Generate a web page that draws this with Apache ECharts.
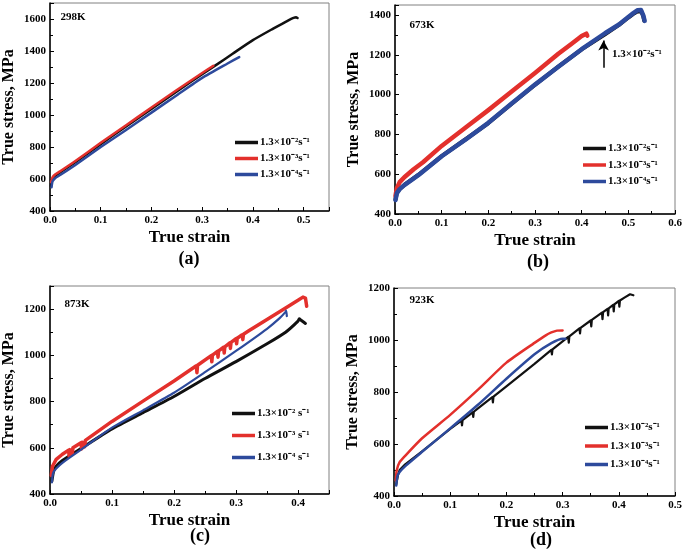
<!DOCTYPE html>
<html><head><meta charset="utf-8">
<script src="https://cdn.jsdelivr.net/npm/echarts@6/dist/echarts.min.js"></script>
<style>html,body{margin:0;padding:0;background:#fff}#c{width:685px;height:555px}</style>
</head><body><div id="c"></div>
<script>
const FONT = '"Liberation Serif","Times New Roman",serif';
const rateNames = ['1.3×10⁻²s⁻¹', '1.3×10⁻³s⁻¹', '1.3×10⁻⁴s⁻¹'];
const rateNamesC = ['1.3×10⁻² s⁻¹', '1.3×10⁻³ s⁻¹', '1.3×10⁻⁴ s⁻¹'];
const temps = ['298K', '673K', '873K', '923K'];
const panelLabels = ['(a)', '(b)', '(c)', '(d)'];
const xMax = [0.55, 0.6, 0.45, 0.5];
const yMax = [1700, 1450, 1300, 1200];
const arrowNote = '1.3×10⁻²s⁻¹';

// (a) 298K  [true strain, true stress MPa]
const a_black = [[0.002,555],[0.004,590],[0.008,612],[0.015,630],[0.03,662],[0.05,705],[0.1,818],[0.15,928],[0.2,1038],[0.25,1147],[0.3,1255],[0.33,1318],[0.36,1383],[0.4,1468],[0.44,1540],[0.47,1592],[0.48,1607],[0.485,1611],[0.488,1606]];
const a_red = [[0.002,580],[0.005,610],[0.01,628],[0.02,648],[0.05,712],[0.1,826],[0.15,936],[0.2,1047],[0.25,1156],[0.3,1262],[0.322,1308]];
const a_blue = [[0.003,548],[0.005,585],[0.01,605],[0.02,625],[0.05,688],[0.1,800],[0.15,906],[0.2,1015],[0.25,1124],[0.3,1232],[0.35,1322],[0.373,1362]];

// (b) 673K
const b_black = [[0.001,472],[0.004,506],[0.01,526],[0.02,546],[0.05,596],[0.1,691],[0.15,773],[0.2,857],[0.25,954],[0.3,1049],[0.35,1140],[0.4,1227],[0.45,1303],[0.48,1350],[0.5,1387],[0.51,1404],[0.52,1418],[0.528,1417],[0.532,1394],[0.534,1372]];
const b_red = [[0.001,490],[0.004,530],[0.01,560],[0.02,585],[0.04,625],[0.06,660],[0.1,742],[0.15,832],[0.2,922],[0.25,1015],[0.3,1108],[0.35,1205],[0.38,1258],[0.4,1294],[0.41,1306],[0.412,1296]];
const b_blue = [[0.001,470],[0.004,505],[0.01,525],[0.02,545],[0.05,595],[0.1,690],[0.15,772],[0.2,858],[0.25,955],[0.3,1050],[0.35,1140],[0.4,1228],[0.45,1308],[0.48,1352],[0.5,1390],[0.51,1408],[0.52,1424],[0.527,1425],[0.532,1398],[0.535,1370]];

// (c) 873K
const c_black = [[0.003,455],[0.006,500],[0.01,520],[0.02,545],[0.05,597],[0.1,682],[0.15,752],[0.2,822],[0.25,900],[0.3,973],[0.35,1050],[0.38,1100],[0.4,1148],[0.402,1158],[0.405,1152],[0.412,1138]];
const c_red = [[0.002,480],[0.004,520],[0.01,550],[0.02,572],[0.03,590],[0.031,562],[0.032,592],[0.035,598],[0.036,572],[0.037,600],[0.05,622],[0.051,595],[0.052,624],[0.055,630],[0.056,605],[0.057,632],[0.1,714],[0.15,802],[0.2,889],[0.236,955],[0.237,925],[0.238,957],[0.26,999],[0.261,972],[0.262,1001],[0.27,1017],[0.271,992],[0.272,1019],[0.28,1035],[0.281,1010],[0.282,1037],[0.29,1054],[0.291,1030],[0.292,1056],[0.3,1072],[0.301,1050],[0.302,1074],[0.31,1089],[0.311,1068],[0.312,1091],[0.32,1105],[0.35,1155],[0.38,1205],[0.4,1238],[0.408,1252],[0.412,1248],[0.414,1212]];
const c_blue = [[0.003,450],[0.005,490],[0.01,510],[0.02,535],[0.05,592],[0.1,687],[0.15,762],[0.2,838],[0.25,927],[0.3,1019],[0.35,1115],[0.37,1160],[0.38,1188],[0.381,1194],[0.382,1170]];

// (d) 923K
const d_black = [[0.004,445],[0.007,480],[0.01,500],[0.02,522],[0.05,572],[0.1,658],[0.12,690],[0.121,672],[0.122,692],[0.14,722],[0.141,704],[0.142,724],[0.15,738],[0.175,780],[0.176,760],[0.177,782],[0.2,822],[0.25,908],[0.28,962],[0.281,945],[0.282,964],[0.3,995],[0.31,1012],[0.311,990],[0.312,1014],[0.33,1045],[0.331,1025],[0.332,1047],[0.35,1075],[0.351,1052],[0.352,1077],[0.37,1105],[0.371,1080],[0.372,1107],[0.38,1120],[0.381,1095],[0.382,1122],[0.39,1135],[0.391,1110],[0.392,1137],[0.4,1150],[0.401,1128],[0.402,1152],[0.41,1163],[0.42,1176],[0.426,1172]];
const d_red = [[0.003,460],[0.005,500],[0.01,530],[0.02,555],[0.05,622],[0.1,712],[0.15,810],[0.2,913],[0.25,989],[0.27,1018],[0.28,1029],[0.29,1036],[0.3,1037]];
const d_blue = [[0.004,440],[0.006,475],[0.01,492],[0.02,515],[0.05,570],[0.1,660],[0.15,752],[0.2,851],[0.25,945],[0.28,988],[0.3,1005],[0.305,1005]];

const panelData = [[a_black,a_red,a_blue],[b_black,b_red,b_blue],[c_black,c_red,c_blue],[d_black,d_red,d_blue]];
// which series are drawn as smooth curves (those without serration drops)
const smoothFlags = [[true,true,true],[false,false,false],[true,false,true],[false,true,true]];

// layout (styling only)
const grids = [
  {left:50, top:3, width:279, height:208},
  {left:395, top:5, width:280, height:209},
  {left:48, top:286, width:281, height:208},
  {left:394, top:288, width:281, height:208}
];
const colors = ['#111111', '#e3302c', '#2d4a9c'];
const widths = [[2.5,2.5,2.5],[4,4.5,4.5],[3,3.5,2.2],[2.2,2.5,2.5]];
const legendPos = [
  {left:230, top:132, gap:5},
  {left:578, top:138, gap:5.5},
  {left:227, top:403, gap:11},
  {left:580, top:417, gap:7.5}
];
const tempPos = [[73,17],[422,25],[77,304],[422,300]];
const labelPos = [[189,259],[538,262],[200,536],[541,540]];

const txt = {fontFamily: FONT, fontWeight: 'bold', color: '#000'};
const isTenth = v => Math.abs(v*10 - Math.round(v*10)) < 1e-6;

const option = {
  animation: false,
  backgroundColor: '#fff',
  grid: grids.map(g => Object.assign({show:true, borderColor:'#808080', borderWidth:1, containLabel:false}, g)),
  xAxis: grids.map((g,i) => ({
    gridIndex:i, type:'value', min:0, max:xMax[i], interval:0.1,
    axisLine:{show:true, onZero:false, lineStyle:{color:'#000', width:1.5}},
    axisTick:{show:true, inside:true, length:4, lineStyle:{color:'#000', width:1}},
    minorTick:{show:true, splitNumber:2, length:3, lineStyle:{color:'#000', width:1}},
    splitLine:{show:false},
    axisLabel:Object.assign({fontSize:11, margin:4, showMaxLabel:isTenth(xMax[i]),
      formatter:v=>isTenth(v) ? v.toFixed(1) : ''}, txt),
    name:'True strain', nameLocation:'middle', nameGap:18,
    nameTextStyle:Object.assign({fontSize:17}, txt)
  })),
  yAxis: grids.map((g,i) => ({
    gridIndex:i, type:'value', min:400, max:yMax[i], interval:200,
    axisLine:{show:true, onZero:false, lineStyle:{color:'#000', width:1.5}},
    axisTick:{show:true, inside:true, length:4, lineStyle:{color:'#000', width:1}},
    minorTick:{show:true, splitNumber:2, length:3, lineStyle:{color:'#000', width:1}},
    splitLine:{show:false},
    axisLabel:Object.assign({fontSize:11, margin:4, showMaxLabel:yMax[i]%200===0,
      formatter:v=>(v%200===0 ? String(v) : '')}, txt),
    name:'True stress, MPa', nameLocation:'middle', nameGap:33,
    nameTextStyle:Object.assign({fontSize:16}, txt)
  })),
  legend: legendPos.map((p,i) => ({
    left:p.left, top:p.top, orient:'vertical', itemGap:p.gap,
    itemWidth:23, itemHeight:3.5, icon:'rect',
    data: i===2 ? rateNamesC : rateNames,
    textStyle:Object.assign({fontSize:11, padding:[0,0,0,-3]}, txt),
    selectedMode:false
  })),
  series: [],
  graphic: []
};

panelData.forEach((ser, i) => {
  ser.forEach((d, k) => {
    const s = {
      type:'line', name:(i===2 ? rateNamesC : rateNames)[k],
      xAxisIndex:i, yAxisIndex:i, data:d,
      showSymbol:false, symbol:'none',
      smooth: smoothFlags[i][k] ? 0.2 : false,
      lineStyle:{color:colors[k], width:widths[i][k], join:'round', cap:'round'},
      itemStyle:{color:colors[k]},
      z: 2 + k
    };
    if (i===1 && k===0) {
      s.markLine = {
        silent:true, symbol:['none','arrow'], symbolSize:[8,10],
        lineStyle:{color:'#000', width:1.5, type:'solid'},
        label:{show:false},
        data:[[{coord:[0.447,1135]},{coord:[0.447,1272]}]]
      };
      s.markPoint = {
        silent:true, symbol:'circle', symbolSize:0,
        data:[{coord:[0.465,1204], value:arrowNote}],
        label:Object.assign({show:true, position:'right', distance:0, fontSize:11, formatter:arrowNote}, txt)
      };
    }
    option.series.push(s);
  });
  option.graphic.push({type:'text', x:tempPos[i][0], y:tempPos[i][1],
    style:{text:temps[i], font:'bold 11px '+FONT, fill:'#000', align:'center', verticalAlign:'middle'}});
  option.graphic.push({type:'text', x:labelPos[i][0], y:labelPos[i][1],
    style:{text:panelLabels[i], font:'bold 18px '+FONT, fill:'#000', align:'center', verticalAlign:'middle'}});
});

const chart = echarts.init(document.getElementById('c'), null, {renderer:'canvas'});
chart.setOption(option);
</script>
</body></html>
